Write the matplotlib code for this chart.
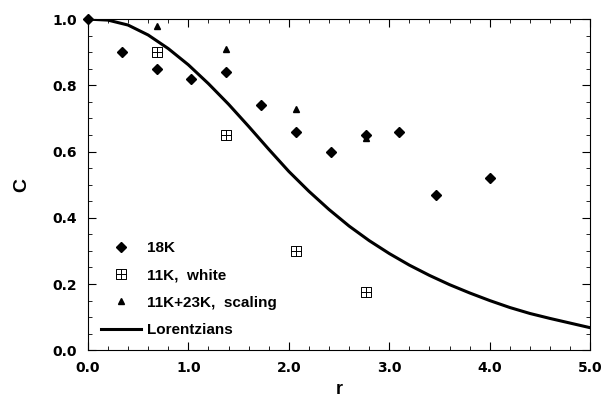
import matplotlib
matplotlib.use('Agg')
import matplotlib.pyplot as plt
from matplotlib.path import Path
from matplotlib.ticker import MultipleLocator, FormatStrFormatter

plt.rcParams['font.family'] = ['Liberation Sans', 'DejaVu Sans']
plt.rcParams['font.weight'] = 'bold'

# 18K data (diamonds)
r_18k = [0.0, 0.34, 0.69, 1.03, 1.37, 1.72, 2.07, 2.42, 2.77, 3.10, 3.46, 4.00]
c_18k = [1.00, 0.90, 0.85, 0.82, 0.84, 0.74, 0.66, 0.60, 0.65, 0.66, 0.47, 0.52]

# 11K, white (boxed plus)
r_white = [0.69, 1.37, 2.07, 2.77]
c_white = [0.90, 0.65, 0.30, 0.175]

# 11K+23K, scaling (triangles)
r_scal = [0.69, 1.37, 2.07, 2.77]
c_scal = [0.98, 0.91, 0.73, 0.64]

# Lorentzians curve
r_lor = [0.0, 0.2, 0.4, 0.6, 0.8, 1.0, 1.2, 1.4, 1.6, 1.8, 2.0, 2.2, 2.4,
         2.6, 2.8, 3.0, 3.2, 3.4, 3.6, 3.8, 4.0, 4.2, 4.4, 4.6, 4.8, 5.0]
c_lor = [1.0, 0.997, 0.982, 0.952, 0.911, 0.862, 0.805, 0.743, 0.676,
         0.607, 0.540, 0.480, 0.425, 0.375, 0.331, 0.292, 0.257, 0.226,
         0.198, 0.173, 0.150, 0.129, 0.111, 0.096, 0.082, 0.068]

# boxed-plus marker: square outline with a cross inside
boxplus = Path([(-1, -1), (1, -1), (1, 1), (-1, 1), (-1, -1),
                (0, -1), (0, 1), (-1, 0), (1, 0)],
               [Path.MOVETO, Path.LINETO, Path.LINETO, Path.LINETO, Path.CLOSEPOLY,
                Path.MOVETO, Path.LINETO, Path.MOVETO, Path.LINETO])

fig, ax = plt.subplots(figsize=(6.06, 3.98), dpi=100)
fig.subplots_adjust(left=0.145, right=0.974, top=0.952, bottom=0.12)

ax.plot(r_18k, c_18k, linestyle='none', marker='D', color='black',
        markersize=5, label='18K', clip_on=False)
ax.plot(r_white, c_white, linestyle='none', marker=boxplus, color='black',
        markerfacecolor='none', markersize=6.5, markeredgewidth=0.7,
        label='11K,  white')
ax.plot(r_scal, c_scal, linestyle='none', marker='^', color='black',
        markersize=4, label='11K+23K,  scaling')
ax.plot(r_lor, c_lor, color='black', linewidth=2.2, label='Lorentzians')

ax.set_xlim(0, 5)
ax.set_ylim(0, 1)
ax.xaxis.set_major_locator(MultipleLocator(1.0))
ax.xaxis.set_minor_locator(MultipleLocator(0.2))
ax.yaxis.set_major_locator(MultipleLocator(0.2))
ax.yaxis.set_minor_locator(MultipleLocator(0.05))
ax.xaxis.set_major_formatter(FormatStrFormatter('%.1f'))
ax.yaxis.set_major_formatter(FormatStrFormatter('%.1f'))
ax.tick_params(which='both', direction='in', top=True, right=True, pad=8)
ax.tick_params(which='major', length=6)
ax.tick_params(which='minor', length=3)
for lab in ax.get_xticklabels() + ax.get_yticklabels():
    lab.set_family('DejaVu Sans')
    lab.set_fontsize(10)
    lab.set_fontweight('bold')

ax.set_xlabel('r', fontsize=13, fontweight='bold', labelpad=4)
ax.set_ylabel('C', fontsize=14, fontweight='bold', labelpad=16)

ax.legend(loc='lower left', frameon=False, fontsize=11, handlelength=2.6,
          labelspacing=0.88, borderaxespad=0.3, borderpad=0.55,
          handletextpad=0.45)

fig.savefig('out.png', dpi=100)
